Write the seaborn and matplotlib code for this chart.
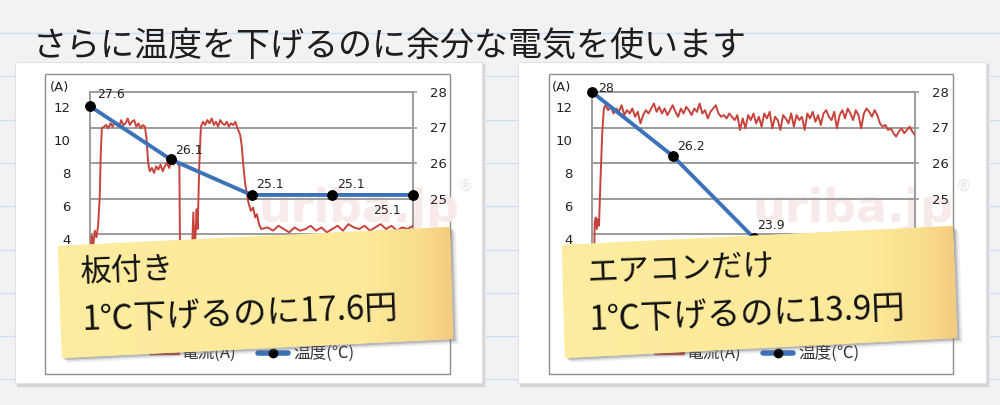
import numpy as np
import matplotlib
matplotlib.use("Agg")
import matplotlib.pyplot as plt
from matplotlib.patches import Polygon, Rectangle
from matplotlib.colors import LinearSegmentedColormap
import seaborn as sns

# --- données ---
title = "さらに温度を下げるのに余分な電気を使います"
current_ticks = [0, 2, 4, 6, 8, 10, 12]
temp_ticks = [22, 23, 24, 25, 26, 27, 28]

# graphique de gauche (板付き)
left_cur_t = [0, 0.3, 0.6, 0.9, 1.2, 1.5, 1.8, 2.0, 2.2,
              2.6, 3.0, 3.4, 3.8, 4.2, 4.6, 5.0, 5.4, 5.8, 6.2, 6.6, 7.0, 7.4, 7.8, 8.2, 8.6,
              9.0, 9.4, 9.8, 10.2, 10.5,
              10.8, 11.1, 11.5, 11.9, 12.3, 12.7, 13.1, 13.5, 13.9, 14.3, 14.7, 15.1, 15.5,
              15.9, 16.3, 16.6, 16.8,
              18.8, 19.0, 19.2, 19.4, 19.6, 19.8, 20.0, 20.3, 20.6,
              21.0, 21.4, 21.8, 22.2, 22.6, 23.0, 23.4, 23.8, 24.2, 24.6, 25.0, 25.4, 25.8,
              26.2, 26.6, 27.0, 27.4,
              27.9, 28.2, 28.5, 28.8, 29.2, 29.5, 29.9, 30.3, 30.7, 31.0, 31.4, 31.8,
              33, 34, 35, 36, 37, 38, 39, 40, 41, 42, 43, 44, 45, 46, 47, 48, 49, 50,
              51, 52, 53, 54, 55, 56, 57, 58, 59, 60]
left_cur_a = [0.4, 4.2, 3.6, 4.5, 4.1, 4.8, 6.5, 9.2, 10.7,
              10.8, 10.9, 10.7, 11.0, 10.8, 11.1, 10.9, 10.8, 11.2, 10.9, 11.0, 11.3, 10.9, 11.1,
              11.2, 10.8, 11.0, 10.7, 10.9, 10.8, 10.1,
              8.6, 8.1, 8.3, 8.0, 8.4, 8.2, 8.5, 8.1, 8.4, 8.6, 8.3, 8.7, 8.5, 8.8, 8.6, 8.4, 0.0,
              0.0, 3.8, 5.6, 3.5, 4.2, 5.8, 4.6, 8.5, 10.8,
              11.1, 10.9, 11.2, 11.0, 11.3, 10.9, 11.1, 10.8, 11.2, 11.0, 10.9, 11.1, 10.8,
              11.0, 10.9, 11.1, 10.7,
              10.3, 9.6, 8.4, 7.4, 6.6, 6.1, 5.7, 5.9, 5.3, 5.5, 4.9, 4.6,
              4.7, 4.5, 4.8, 4.6, 4.4, 4.7, 4.5, 4.6, 4.8, 4.5, 4.7, 4.4, 4.6, 4.8, 4.5, 4.9,
              4.7, 4.6, 4.8, 4.5, 4.7, 4.9, 4.6, 4.8, 4.5, 4.7, 4.6, 4.8]
left_temp_t = [0, 15, 30, 45, 60]
left_temp = [27.6, 26.1, 25.1, 25.1, 25.1]

# graphique de droite (エアコンだけ)
right_start_t = [0, 0.3, 0.5, 0.7, 0.9, 1.1, 1.3, 1.6, 1.9, 2.2]
right_start_a = [0.0, 0.5, 5.0, 5.3, 4.6, 5.2, 4.8, 7.8, 10.4, 11.9]
# relevés toutes les 0.5 min de 2.5 à 60
right_cur_a = [12.1, 11.8, 12.0, 11.6, 11.9, 11.7, 12.1, 11.5, 11.8, 11.6, 11.9, 11.4, 11.7,
               11.0, 11.5, 11.8, 11.6,
               11.9, 12.2, 11.7, 12.0, 11.6, 11.9, 11.5, 11.8, 12.1, 11.7, 11.4, 11.9, 11.6,
               12.0, 11.8, 11.5, 11.9, 11.7, 12.2, 11.6, 11.8, 11.3, 11.7, 11.9, 12.1, 11.6, 11.4,
               11.5, 11.3, 11.6, 11.4, 11.2, 11.5, 10.6, 11.3, 10.7, 11.5, 11.2, 11.6, 11.0, 11.4,
               10.8, 11.6, 11.3, 11.7, 10.7, 11.4, 11.2, 10.6, 11.5, 11.3, 11.0, 11.6, 10.8, 11.5,
               11.2, 11.4, 10.6, 11.6, 11.3, 11.7, 11.1, 11.5, 10.9, 11.6, 11.8, 11.4, 11.2, 11.7,
               10.7, 11.5, 11.8, 11.3, 11.9, 11.6, 11.2, 11.8, 11.5, 10.7, 11.6, 11.9, 11.7, 11.4,
               11.8, 11.5,
               11.0, 10.8, 10.9, 10.6, 10.7, 10.4, 10.2, 10.5, 10.7, 10.4, 10.6, 10.8, 10.5, 10.3]
right_temp_t = [0, 15, 30]
right_temp = [28.0, 26.2, 23.9]

notes = [("板付き", "1℃下げるのに17.6円"), ("エアコンだけ", "1℃下げるのに13.9円")]
legend_labels = ["電流(A)", "温度(℃)"]

RED = "#c8433b"
BLUE = "#3b72b8"
GRID = "#9c9c9c"

sns.set_theme(style="white")
plt.rcParams['font.family'] = ['Noto Sans CJK JP', 'DejaVu Sans']

W, H = 1000, 405
fig = plt.figure(figsize=(10, 4.05), dpi=100)
fig.patch.set_facecolor("#f2f2f2")

# --- fond : papier ligné + cartes ---
bg = fig.add_axes([0, 0, 1, 1], zorder=0)
bg.patch.set_visible(False)
for y in np.arange(33, H, 43.3):
    bg.axhline(y, color="#cfe0f2", lw=1)
for cx, cw in [(15, 467), (518, 468)]:
    bg.add_patch(Rectangle((cx + 1.5, 64), cw, 322, color="#d5d5d5", zorder=1))
    bg.add_patch(Rectangle((cx, 62), cw, 321, facecolor="white", edgecolor="#e2e2e2", lw=0.8, zorder=2))
for bx, bw in [(45, 405), (549, 404)]:
    bg.add_patch(Rectangle((bx, 74), bw, 300, facecolor="none", edgecolor="#8e8e8e", lw=1, zorder=3))
for wx, rx in [(258, 465), (752, 963)]:
    bg.text(wx, 222, "uriba.jp", fontsize=33, fontweight="bold", family="DejaVu Sans",
            color="#f9eaea", ha="left", va="baseline", zorder=4)
    bg.text(rx, 186, "®", fontsize=11, family="DejaVu Sans", color="#e6e6e6",
            ha="center", va="center", zorder=4)
bg.text(33, 47, title, fontsize=24.5, color="#1e1e1e", ha="left", va="center", zorder=4)
bg.set_xlim(0, W)
bg.set_ylim(H, 0)
bg.axis("off")


def draw_chart(x0, cur_t, cur_a, tmp_t, tmp_v, label_offsets):
    rect = [x0 / W, 1 - 305 / H, 323 / W, 213 / H]
    ax_t = fig.add_axes(rect, zorder=2)
    ax_a = fig.add_axes(rect, zorder=3)
    ax_b = fig.add_axes(rect, zorder=4)
    for a in (ax_t, ax_a, ax_b):
        a.patch.set_visible(False)
        for s in a.spines.values():
            s.set_visible(False)
        a.set_xticks([])

    # axe des températures, grille
    ax_t.set_ylim(22, 28)
    ax_t.yaxis.tick_right()
    ax_t.set_yticks(temp_ticks)
    ax_t.grid(axis="y", color=GRID, lw=1.4)
    for gl in ax_t.get_ygridlines():
        gl.set_clip_on(False)
    for side in ("left", "right"):
        ax_t.spines[side].set_visible(True)
        ax_t.spines[side].set_color(GRID)
        ax_t.spines[side].set_linewidth(1.4)
    ax_t.tick_params(axis="y", right=True, length=3, width=1.2, pad=9, labelsize=9.5,
                     color=GRID, labelcolor="#222222")

    # courant
    sns.lineplot(x=cur_t, y=cur_a, ax=ax_a, color=RED, lw=1.4, estimator=None, sort=False)
    ax_a.set_ylim(0, 12.9)
    ax_a.set_yticks(current_ticks)
    ax_a.tick_params(axis="y", left=True, length=0, pad=14, labelsize=9.5, labelcolor="#222222")
    ax_a.set_ylabel("")
    ax_a.text(-0.095, 1.02, "(A)", transform=ax_a.transAxes, fontsize=9.5,
              family="DejaVu Sans", color="#222222", ha="center", va="center")

    # température
    sns.lineplot(x=tmp_t, y=tmp_v, ax=ax_b, color=BLUE, lw=2.8, marker="o", markersize=7,
                 markerfacecolor="black", markeredgecolor="black", estimator=None, clip_on=False)
    ax_b.set_ylim(22, 28)
    ax_b.set_yticks([])
    ax_b.set_ylabel("")
    for (t, v), (dx, dy, ha) in zip(zip(tmp_t, tmp_v), label_offsets):
        ax_b.annotate(f"{v:g}", (t, v), xytext=(dx, dy), textcoords="offset pixels",
                      fontsize=9, family="DejaVu Sans", color="#222222", ha=ha, va="center")

    for a in (ax_t, ax_a, ax_b):
        a.set_xlim(0, 60)
        for lbl in a.get_yticklabels():
            lbl.set_family("DejaVu Sans")


draw_chart(90, left_cur_t, left_cur_a, left_temp_t, left_temp,
           [(7, 12, "left"), (4, 9, "left"), (5, 10, "left"), (5, 10, "left"), (-12, -16, "right")])
right_t = right_start_t + list(np.arange(2.5, 60.01, 0.5))
draw_chart(592, right_t, right_start_a + right_cur_a, right_temp_t, right_temp,
           [(6, 3, "left"), (4, 9, "left"), (4, 12, "left")])

# --- légende et post-it ---
ov = fig.add_axes([0, 0, 1, 1], zorder=10)
ov.patch.set_visible(False)
for dx in (0, 505):
    ov.plot([150 + dx, 178 + dx], [353, 353], color=RED, lw=2.5, zorder=1)
    ov.text(182 + dx, 353, legend_labels[0], fontsize=12, color="#333333", va="center", zorder=1)
    ov.plot([258 + dx, 288 + dx], [353, 353], color=BLUE, lw=4, zorder=1)
    ov.plot([273 + dx], [353], "o", color="black", ms=6, zorder=1)
    ov.text(293 + dx, 353, legend_labels[1], fontsize=12, color="#333333", va="center", zorder=1)

cmap = LinearSegmentedColormap.from_list(
    "note", [(0, "#fdeda0"), (0.78, "#fce99a"), (0.92, "#f9dc8c"), (1, "#f4cc7e")])
grad = np.linspace(0, 1, 256).reshape(1, -1)
note_polys = [[(58, 246), (450, 227), (453, 339), (62, 358)],
              [(562, 245), (953, 226), (957, 338), (565, 358)]]
text_x = [80, 587]
for pts, tx, (l1, l2) in zip(note_polys, text_x, notes):
    pts = np.array(pts, dtype=float)
    for off, al in [(6, 0.10), (4, 0.18), (2.5, 0.3)]:
        ov.add_patch(Polygon(pts + [off, off * 0.8], closed=True, color="#707070",
                             alpha=al, lw=0, zorder=2))
    poly = Polygon(pts, closed=True, facecolor="#fce99a", edgecolor="none", zorder=3)
    ov.add_patch(poly)
    im = ov.imshow(grad, cmap=cmap, aspect="auto", interpolation="bilinear", zorder=3.5,
                   extent=[pts[:, 0].min(), pts[:, 0].max(), pts[:, 1].max(), pts[:, 1].min()])
    im.set_clip_path(poly)
    ov.text(tx, 273, l1, fontsize=22.5, color="#111111", rotation=2.2, rotation_mode="anchor",
            ha="left", va="center", zorder=5)
    ov.text(tx + 2, 321, l2, fontsize=24, color="#111111", rotation=2.2, rotation_mode="anchor",
            ha="left", va="center", zorder=5)

ov.set_xlim(0, W)
ov.set_ylim(H, 0)
ov.axis("off")

plt.savefig("out.png", dpi=100)
